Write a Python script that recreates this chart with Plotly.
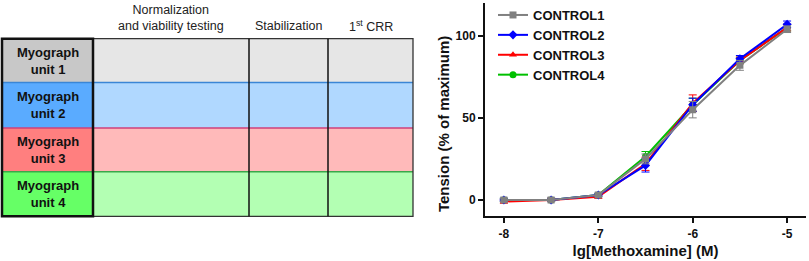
import plotly.graph_objects as go

# ---------------- data ----------------
phases = ["Normalization<br>and viability testing", "Stabilization", "1<sup>st</sup> CRR"]
units = ["Myograph<br>unit 1", "Myograph<br>unit 2", "Myograph<br>unit 3", "Myograph<br>unit 4"]
unit_label_colors = ["#c8c8c8", "#5aabff", "#ff7f7f", "#66ff66"]
unit_body_colors = ["#e6e6e6", "#b0d8ff", "#ffbaba", "#b3ffb3"]
unit_sep_colors = ["#3a86d6", "#d0407a", "#3aa84a"]

log_conc = [-8, -7.5, -7, -6.5, -6, -5.5, -5]
series_names = ["CONTROL1", "CONTROL2", "CONTROL3", "CONTROL4"]
control1 = [0, 0, 3, 25, 55, 82, 104]
control2 = [0, 0, 3, 21, 58, 86, 107]
control3 = [-1, 0, 2, 22, 59, 85, 105]
control4 = [0, 0, 3, 26.5, 58, 85, 105]
err1 = [1, 1, 1, 3, 5, 3, 2]
err2 = [1, 1, 1, 4, 4, 2, 2]
err3 = [1, 1, 1, 4, 5, 2, 2]
err4 = [1, 1, 1, 3, 4, 2, 2]
series_values = [control1, control2, control3, control4]
series_err = [err1, err2, err3, err4]
series_colors = ["#808080", "#0000ff", "#ff0000", "#00c000"]
series_symbols = ["square", "diamond", "triangle-up", "circle"]

W, H = 809, 261
FONT = "Liberation Sans, Arial, sans-serif"

fig = go.Figure()

# ---------------- chart ----------------
order = [3, 2, 1, 0]
for i in order:
    fig.add_trace(go.Scatter(
        x=log_conc, y=series_values[i], name="<b>" + series_names[i] + "</b>",
        mode="lines+markers",
        line=dict(color=series_colors[i], width=2),
        marker=dict(symbol=series_symbols[i], size=7, color=series_colors[i]),
        error_y=dict(type="data", array=series_err[i], color=series_colors[i],
                     thickness=1, width=4),
        xaxis="x", yaxis="y",
    ))

# ---------------- table (layout in pixel units on hidden axes) ----------------
col_edges = [2, 93, 249, 328, 413]
row_edges = [37, 81, 127, 171, 216]
shapes = []
annotations = []
for r, name in enumerate(units):
    y0, y1 = row_edges[r], row_edges[r + 1]
    shapes.append(dict(type="rect", xref="x2", yref="y2", x0=col_edges[1], x1=col_edges[-1],
                       y0=y0, y1=y1, fillcolor=unit_body_colors[r], line=dict(width=0), layer="below"))
    shapes.append(dict(type="rect", xref="x2", yref="y2", x0=col_edges[0], x1=col_edges[1],
                       y0=y0, y1=y1, fillcolor=unit_label_colors[r], line=dict(width=0), layer="below"))
    annotations.append(dict(xref="x2", yref="y2", x=(col_edges[0] + col_edges[1]) / 2,
                            y=(y0 + y1) / 2, text="<b>" + name + "</b>", showarrow=False,
                            font=dict(family=FONT, size=13, color="#111111")))
for r in range(len(units) - 1):
    y = row_edges[r + 1]
    shapes.append(dict(type="line", xref="x2", yref="y2", x0=col_edges[0], x1=col_edges[-1],
                       y0=y, y1=y, line=dict(color=unit_sep_colors[r], width=1.5)))
# body outline & column separators
shapes.append(dict(type="rect", xref="x2", yref="y2", x0=col_edges[1], x1=col_edges[-1],
                   y0=row_edges[0], y1=row_edges[-1], line=dict(color="#333333", width=1.3)))
for c in col_edges[2:-1]:
    shapes.append(dict(type="line", xref="x2", yref="y2", x0=c, x1=c,
                       y0=row_edges[0], y1=row_edges[-1], line=dict(color="#111111", width=1.5)))
# label column thick border
shapes.append(dict(type="rect", xref="x2", yref="y2", x0=col_edges[0], x1=col_edges[1],
                   y0=row_edges[0], y1=row_edges[-1], line=dict(color="#111111", width=2.5)))
for c, ph in enumerate(phases):
    nlines = ph.count("<br>") + 1
    annotations.append(dict(xref="x2", yref="y2", x=(col_edges[c + 1] + col_edges[c + 2]) / 2,
                            y=24 - 8 * (nlines - 1), yanchor="middle", text=ph, showarrow=False,
                            align="center", borderpad=0,
                            font=dict(family=FONT, size=12.5, color="#222222")))

# y-axis title as annotation (placed like the reference)
annotations.append(dict(xref="paper", yref="paper", x=443 / W, y=1 - 123 / H,
                        text="<b>Tension (% of maximum)</b>", textangle=-90, showarrow=False,
                        font=dict(family=FONT, size=15, color="#111111")))

fig.update_layout(
    width=W, height=H,
    margin=dict(l=0, r=0, t=0, b=0),
    paper_bgcolor="white", plot_bgcolor="rgba(0,0,0,0)",
    showlegend=True,
    legend=dict(x=493 / W, y=1 + 2 / H, xanchor="left", yanchor="top",
                traceorder="reversed", bgcolor="rgba(0,0,0,0)",
                font=dict(family=FONT, size=13, color="#111111"),
                tracegroupgap=0),
    xaxis=dict(domain=[485 / W, 806 / W], range=[-8.2, -4.8],
               tickvals=[-8, -7, -6, -5], ticktext=["<b>-8</b>", "<b>-7</b>", "<b>-6</b>", "<b>-5</b>"],
               ticks="outside", ticklen=5, tickwidth=1.5, tickcolor="#111111",
               showline=True, linecolor="#111111", linewidth=2, showgrid=False, zeroline=False,
               tickfont=dict(family=FONT, size=12, color="#111111"),
               title=dict(text="<b>lg[Methoxamine] (M)</b>", standoff=6,
                          font=dict(family=FONT, size=15, color="#111111"))),
    yaxis=dict(domain=[1 - 216 / H, 1 - 1 / H], range=[-10, 120],
               tickvals=[0, 50, 100], ticktext=["<b>0</b>", "<b>50</b>", "<b>100</b>"],
               ticks="outside", ticklen=5, tickwidth=1.5, tickcolor="#111111",
               showline=True, linecolor="#111111", linewidth=2, showgrid=False, zeroline=False,
               tickfont=dict(family=FONT, size=12, color="#111111")),
    xaxis2=dict(domain=[0, 1], range=[0, W], visible=False, anchor="y2"),
    yaxis2=dict(domain=[0, 1], range=[H, 0], visible=False, anchor="x2"),
    shapes=shapes,
    annotations=annotations,
)

fig.write_html("out.html", config={"displayModeBar": False},
               post_script="document.body.style.margin='0';document.body.style.padding='0';")
